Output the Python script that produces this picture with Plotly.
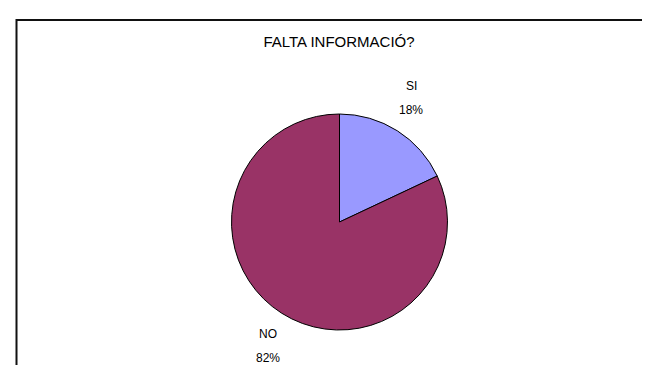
import plotly.graph_objects as go

# ── data ──────────────────────────────────────────────────────────────────────
labels = ["SI", "NO"]
values = [18, 82]
colors = ["#9999FF", "#993366"]
title = "FALTA INFORMACIÓ?"

W, H = 650, 365
FONT = "Liberation Sans, Arial, sans-serif"

# pie placement (pixels)
cx, cy, r = 331.5, 214, 108

fig = go.Figure(go.Pie(
    labels=labels,
    values=values,
    sort=False,
    direction="clockwise",
    rotation=0,
    marker=dict(colors=colors, line=dict(color="#000000", width=1)),
    textinfo="none",
    hoverinfo="label+percent",
    domain=dict(x=[(cx - r) / W, (cx + r) / W],
                y=[1 - (cy + r) / H, 1 - (cy - r) / H]),
))

# slice labels: name above, percent below
total = sum(values)
label_pos = {"SI": (403, 78), "NO": (260, 326)}
anns = []
for lab, val in zip(labels, values):
    px_, py_ = label_pos[lab]
    anns.append(dict(text=lab, x=px_ / W, y=1 - py_ / H, xref="paper", yref="paper",
                     showarrow=False, xanchor="center", yanchor="middle",
                     font=dict(size=12, color="#000")))
    anns.append(dict(text=f"{round(val / total * 100)}%", x=px_ / W, y=1 - (py_ + 24) / H,
                     xref="paper", yref="paper", showarrow=False,
                     xanchor="center", yanchor="middle",
                     font=dict(size=12, color="#000")))

fig.update_layout(
    width=W, height=H,
    margin=dict(l=0, r=0, t=0, b=0),
    paper_bgcolor="white",
    plot_bgcolor="white",
    showlegend=False,
    font=dict(family=FONT, color="#000"),
    title=dict(text=title, x=331 / W, xanchor="center", y=1 - 34 / H, yanchor="middle",
               font=dict(size=15, family=FONT, color="#000")),
    annotations=anns,
    shapes=[dict(type="rect", xref="paper", yref="paper",
                 x0=8.5 / W, x1=1.05, y0=-0.05, y1=1 - 12 / H,
                 line=dict(color="#111", width=2))],
)

fig.write_html("out.html")
